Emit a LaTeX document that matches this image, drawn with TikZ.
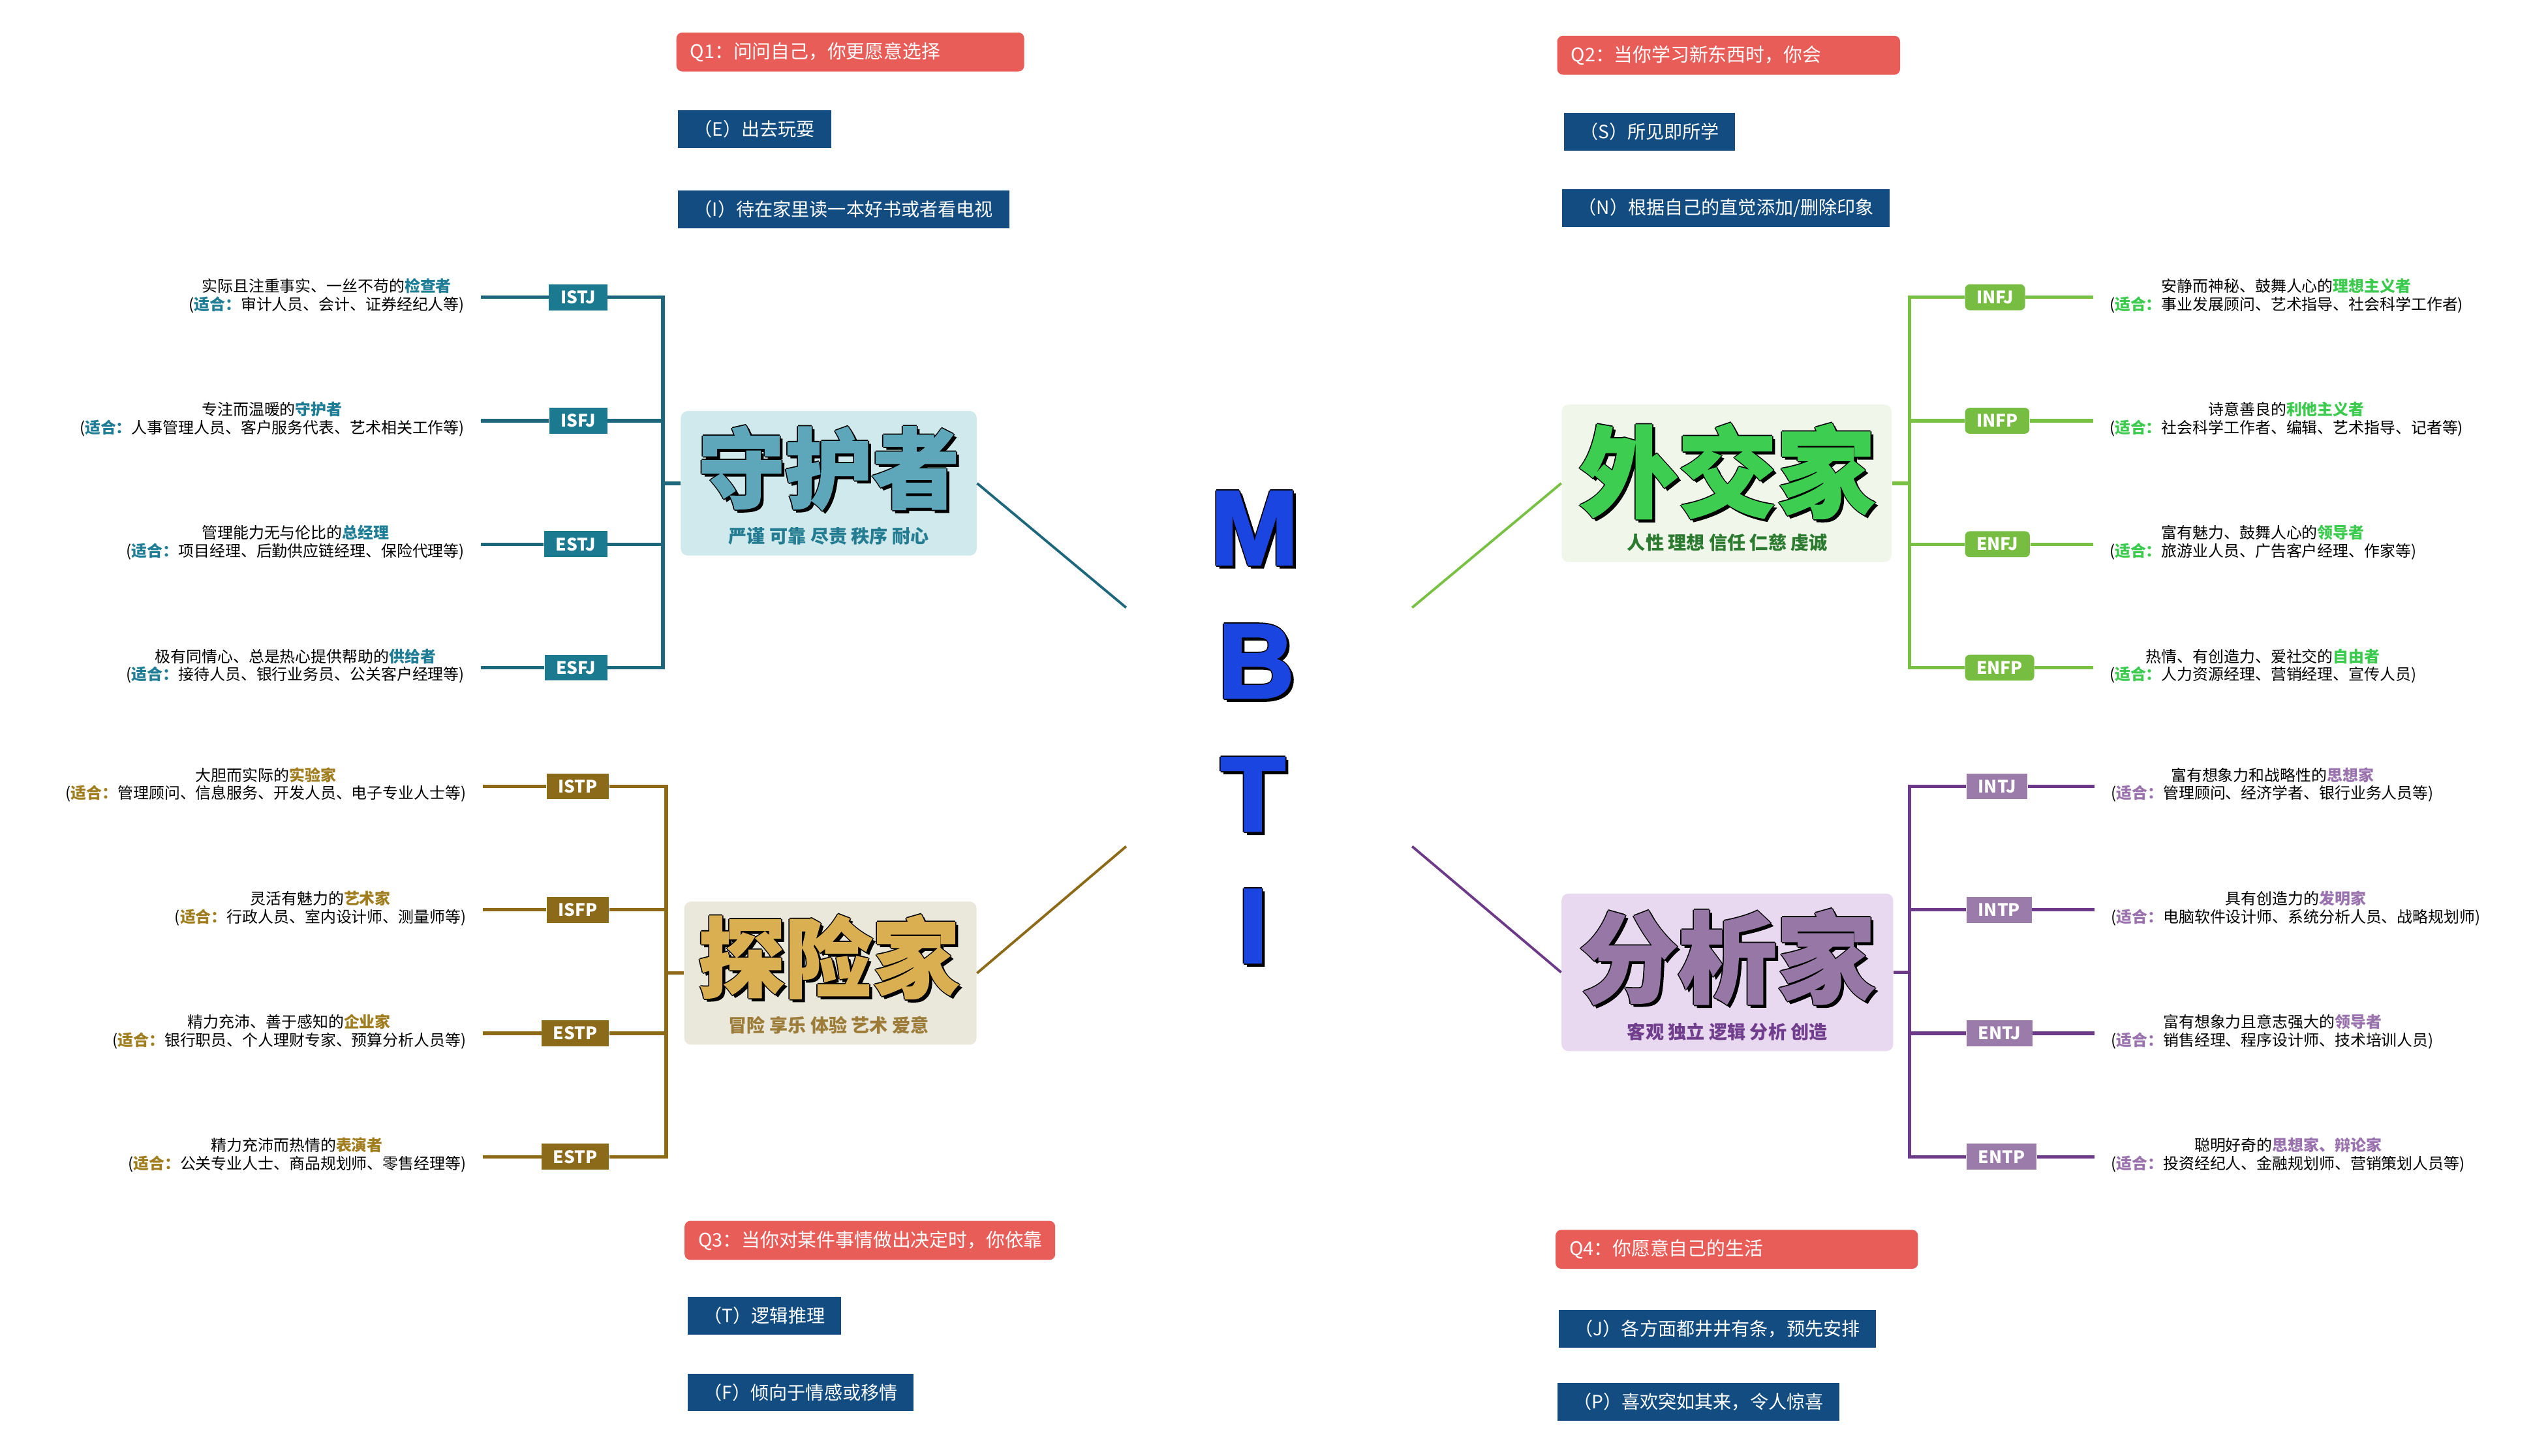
\documentclass[tikz,border=0pt]{standalone}
\usepackage{fontspec}
\setmainfont{Noto Sans CJK SC}
\newfontfamily\wordfont{Noto Sans CJK SC}[BoldFeatures={FakeBold=1.5}]
\newfontfamily\mbtifont{Liberation Sans}[BoldFeatures={FakeBold=2.5}]
\usetikzlibrary{positioning}

\definecolor{qred}{HTML}{E95D59}
\definecolor{ansblue}{HTML}{124C80}
\definecolor{mbtiblue}{HTML}{1B45E0}
% guardian
\definecolor{gline}{HTML}{1D687C}
\definecolor{gbox}{HTML}{1C7A90}
\definecolor{gpanel}{HTML}{D0E9EC}
\definecolor{gword}{HTML}{5EA7BB}
\definecolor{gsub}{HTML}{237C91}
\definecolor{ghl}{HTML}{1F7D95}
% diplomat
\definecolor{dline}{HTML}{78C144}
\definecolor{dbox}{HTML}{76BD42}
\definecolor{dpanel}{HTML}{F0F7EA}
\definecolor{dword}{HTML}{3DCD50}
\definecolor{dsub}{HTML}{2B7A30}
\definecolor{dhl}{HTML}{3CCB4E}
% explorer
\definecolor{eline}{HTML}{8C6A17}
\definecolor{ebox}{HTML}{8B6A19}
\definecolor{epanel}{HTML}{E9E8DB}
\definecolor{eword}{HTML}{D9AF51}
\definecolor{esub}{HTML}{9C7C38}
\definecolor{ehl}{HTML}{A07E20}
% analyst
\definecolor{aline}{HTML}{6C3A89}
\definecolor{abox}{HTML}{9A7BAA}
\definecolor{apanel}{HTML}{E8D8F0}
\definecolor{aword}{HTML}{9677A6}
\definecolor{asub}{HTML}{703E8C}
\definecolor{ahl}{HTML}{9A73AE}

\colorlet{hlcol}{black}
\newcommand\hilite[1]{{\bfseries\color{hlcol}#1}}
% outlined text with a drop shadow
\newcommand\heavytext[5]{%
  \foreach \dx/\dy [count=\k] in {-0.5/0,0.5/0,0/0.5,0/-0.5,1.3/-1.3}
    \node[#3, text=black, xshift=\dx pt, yshift=\dy pt] (#1-\k) at (#2) {#5};
  \node[#3, text=#4] (#1) at (#2) {#5};}

\begin{document}
\begin{tikzpicture}[x=0.024904cm, y=-0.024904cm,
  qbox/.style={fill=qred, rounded corners=2.5pt, text=white, anchor=west, align=left, inner xsep=6pt, minimum height=17pt, font=\fontsize{8.2}{9}\selectfont},
  ans/.style={fill=ansblue, text=white, anchor=west, inner xsep=7pt, minimum height=16.4pt, font=\fontsize{8}{9}\selectfont},
  panel/.style={fill=#1, rounded corners=3pt, inner sep=0pt},
  tbox/.style={fill=#1, text=white, inner xsep=5pt, inner ysep=0pt, minimum height=11.3pt, font=\bfseries\fontsize{7.5}{8}\selectfont},
  desc/.style={align=center, inner xsep=7pt, inner ysep=0pt, font=\fontsize{6.8}{7.9}\selectfont, execute at begin node={\colorlet{hlcol}{#1}}},
  tline/.style={draw=#1, line width=1.5pt},
  spoke/.style={draw=#1, line width=1.1pt},
  word/.style={font=\wordfont\bfseries\fontsize{#1}{#1}\selectfont, inner sep=0pt},
  sub/.style={text=#1, inner sep=0pt, font=\bfseries\fontsize{8}{9}\selectfont},
  letter/.style={font=\mbtifont\bfseries\fontsize{46}{46}\selectfont, inner sep=0pt}]
\path[use as bounding box, fill=white] (0,0) rectangle (1568,896);

% questions
\node[qbox, text width=139.6pt] (q1) at (416,32) {Q1：问问自己，你更愿意选择};
\node[ans] (ans-e) at (417,79.5) {（E）出去玩耍};
\node[ans] (ans-i) at (417,129) {（I）待在家里读一本好书或者看电视};
\node[qbox, text width=137.5pt] (q2) at (958,34) {Q2：当你学习新东西时，你会};
\node[ans] (ans-s) at (962,81) {（S）所见即所学};
\node[ans] (ans-n) at (961,128) {（N）根据自己的直觉添加/删除印象};
\node[qbox, text width=149.6pt] (q3) at (421,763.5) {Q3：当你对某件事情做出决定时，你依靠};
\node[ans] (ans-t) at (423,810) {（T）逻辑推理};
\node[ans] (ans-f) at (423,857) {（F）倾向于情感或移情};
\node[qbox, text width=146pt] (q4) at (957,769) {Q4：你愿意自己的生活};
\node[ans] (ans-j) at (959,818) {（J）各方面都井井有条，预先安排};
\node[ans] (ans-p) at (958,863) {（P）喜欢突如其来，令人惊喜};

% MBTI
\heavytext{mletter}{772,325}{letter}{mbtiblue}{M}
\heavytext{bletter}{773,407}{letter}{mbtiblue}{B}
\heavytext{tletter}{771,489}{letter}{mbtiblue}{T}
\heavytext{iletter}{771,570}{letter}{mbtiblue}{I}
\coordinate (hubnw) at (693,374);
\coordinate (hubne) at (869,374);
\coordinate (hubsw) at (693,521);
\coordinate (hubse) at (869,521);

% panels
\node[panel=gpanel, minimum width=129pt, minimum height=63pt] (guard) at (510,297.5) {};
\heavytext{guardword}{510,288}{word=38}{gword}{守护者}
\node[sub=gsub] (guardsub) at (510,330) {严谨 可靠 尽责 秩序 耐心};
\node[panel=dpanel, minimum width=143.8pt, minimum height=68.7pt] (diplo) at (1062.5,297.5) {};
\heavytext{diploword}{1063,290}{word=43}{dword}{外交家}
\node[sub=dsub] (diplosub) at (1063,334) {人性 理想 信任 仁慈 虔诚};
\node[panel=epanel, minimum width=127.5pt, minimum height=62.4pt] (explo) at (511,599) {};
\heavytext{exploword}{510,589}{word=38}{eword}{探险家}
\node[sub=esub] (explosub) at (510,631) {冒险 享乐 体验 艺术 爱意};
\node[panel=apanel, minimum width=144.6pt, minimum height=68.7pt] (analy) at (1063,598.5) {};
\heavytext{analyword}{1063,589}{word=43}{aword}{分析家}
\node[sub=asub] (analysub) at (1063,635) {客观 独立 逻辑 分析 创造};

\draw[spoke=gline] (guard.east) -- (hubnw);
\draw[spoke=dline] (diplo.west) -- (hubne);
\draw[spoke=eline] (explo.east) -- (hubsw);
\draw[spoke=aline] (analy.west) -- (hubse);

% guardian tree
\coordinate (gjoin) at (408,297.5);
\draw[tline=gline] (guard.west) -- (gjoin);
\foreach \n/\lab/\y/\top/\bot in {
  istj/ISTJ/183/{实际且注重事实、一丝不苟的\hilite{检查者}}/{(\hilite{适合：}审计人员、会计、证券经纪人等)},
  isfj/ISFJ/259/{专注而温暖的\hilite{守护者}}/{(\hilite{适合：}人事管理人员、客户服务代表、艺术相关工作等)},
  estj/ESTJ/335/{管理能力无与伦比的\hilite{总经理}}/{(\hilite{适合：}项目经理、后勤供应链经理、保险代理等)},
  esfj/ESFJ/411/{极有同情心、总是热心提供帮助的\hilite{供给者}}/{(\hilite{适合：}接待人员、银行业务员、公关客户经理等)}}{
  \node[tbox=gbox, anchor=east] (\n) at (374,\y) {\lab};
  \node[desc=ghl, anchor=east] (\n-d) at (296,\y-1) {\top\\\bot};
  \draw[tline=gline] (gjoin) |- (\n.east);
  \draw[tline=gline] (\n.west) -- (\n.west -| \n-d.east);
}

% explorer tree
\coordinate (ejoin) at (410,599);
\draw[tline=eline] (explo.west) -- (ejoin);
\foreach \n/\lab/\y/\top/\bot in {
  istp/ISTP/484/{大胆而实际的\hilite{实验家}}/{(\hilite{适合：}管理顾问、信息服务、开发人员、电子专业人士等)},
  isfp/ISFP/560/{灵活有魅力的\hilite{艺术家}}/{(\hilite{适合：}行政人员、室内设计师、测量师等)},
  estp/ESTP/636/{精力充沛、善于感知的\hilite{企业家}}/{(\hilite{适合：}银行职员、个人理财专家、预算分析人员等)},
  esfp/ESTP/712/{精力充沛而热情的\hilite{表演者}}/{(\hilite{适合：}公关专业人士、商品规划师、零售经理等)}}{
  \node[tbox=ebox, anchor=east] (\n) at (375,\y) {\lab};
  \node[desc=ehl, anchor=east] (\n-d) at (297,\y-1) {\top\\\bot};
  \draw[tline=eline] (ejoin) |- (\n.east);
  \draw[tline=eline] (\n.west) -- (\n.west -| \n-d.east);
}

% diplomat tree
\coordinate (djoin) at (1175,297.5);
\draw[tline=dline] (diplo.east) -- (djoin);
\foreach \n/\lab/\y/\top/\bot in {
  infj/INFJ/183/{安静而神秘、鼓舞人心的\hilite{理想主义者}}/{(\hilite{适合：}事业发展顾问、艺术指导、社会科学工作者)},
  infp/INFP/259/{诗意善良的\hilite{利他主义者}}/{(\hilite{适合：}社会科学工作者、编辑、艺术指导、记者等)},
  enfj/ENFJ/335/{富有魅力、鼓舞人心的\hilite{领导者}}/{(\hilite{适合：}旅游业人员、广告客户经理、作家等)},
  enfp/ENFP/411/{热情、有创造力、爱社交的\hilite{自由者}}/{(\hilite{适合：}人力资源经理、营销经理、宣传人员)}}{
  \node[tbox=dbox, rounded corners=2pt, anchor=west] (\n) at (1209,\y) {\lab};
  \node[desc=dhl, anchor=west] (\n-d) at (1288,\y-1) {\top\\\bot};
  \draw[tline=dline] (djoin) |- (\n.west);
  \draw[tline=dline] (\n.east) -- (\n.east -| \n-d.west);
}

% analyst tree
\coordinate (ajoin) at (1175,598.5);
\draw[tline=aline] (analy.east) -- (ajoin);
\foreach \n/\lab/\y/\top/\bot in {
  intj/INTJ/484/{富有想象力和战略性的\hilite{思想家}}/{(\hilite{适合：}管理顾问、经济学者、银行业务人员等)},
  intp/INTP/560/{具有创造力的\hilite{发明家}}/{(\hilite{适合：}电脑软件设计师、系统分析人员、战略规划师)},
  entj/ENTJ/636/{富有想象力且意志强大的\hilite{领导者}}/{(\hilite{适合：}销售经理、程序设计师、技术培训人员)},
  entp/ENTP/712/{聪明好奇的\hilite{思想家、辩论家}}/{(\hilite{适合：}投资经纪人、金融规划师、营销策划人员等)}}{
  \node[tbox=abox, anchor=west] (\n) at (1210,\y) {\lab};
  \node[desc=ahl, anchor=west] (\n-d) at (1289,\y-1) {\top\\\bot};
  \draw[tline=aline] (ajoin) |- (\n.west);
  \draw[tline=aline] (\n.east) -- (\n.east -| \n-d.west);
}
\end{tikzpicture}
\end{document}
